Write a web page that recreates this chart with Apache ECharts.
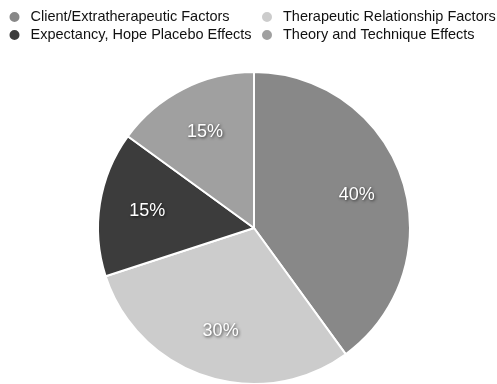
<!DOCTYPE html>
<html><head><meta charset="utf-8">
<script src="https://cdn.jsdelivr.net/npm/echarts@6/dist/echarts.min.js"></script>
<style>html,body{margin:0;padding:0;background:#fff}#c{width:497px;height:384px}</style>
</head><body><div id="c"></div>
<script>
const categories = ['Client/Extratherapeutic Factors', 'Therapeutic Relationship Factors', 'Expectancy, Hope Placebo Effects', 'Theory and Technique Effects'];
const values = [40, 30, 15, 15];
const colors = ['#888888', '#cccccc', '#3c3c3c', '#a0a0a0'];
const legendCol1 = [categories[0], categories[2]];
const legendCol2 = [categories[1], categories[3]];

const font = '"Liberation Sans", Arial, sans-serif';
const pieData = categories.map((n, i) => ({ name: n, value: values[i], itemStyle: { color: colors[i] } }));
const labelData = categories.map((n, i) => ({ name: n, value: values[i] }));

const legendBase = {
  orient: 'vertical', top: 4.5, padding: 5, itemGap: 3, itemWidth: 12, itemHeight: 12, icon: 'circle',
  textStyle: { fontFamily: font, fontSize: 14.5, lineHeight: 14, color: '#111', padding: [0, 0, 0, 5] }, selectedMode: false
};
const chart = echarts.init(document.getElementById('c'));
chart.setOption({
  animation: false,
  legend: [
    Object.assign({}, legendBase, { left: 2.5, data: legendCol1 }),
    Object.assign({}, legendBase, { left: 255, data: legendCol2 })
  ],
  series: [
    {
      type: 'pie', center: [254, 228], radius: [0, 156], startAngle: 90, clockwise: true,
      itemStyle: { borderColor: '#fff', borderWidth: 2 },
      label: { show: false }, labelLine: { show: false }, emphasis: { disabled: true },
      data: pieData
    },
    {
      type: 'pie', center: [254, 228], radius: [54, 156], startAngle: 90, clockwise: true, silent: true,
      itemStyle: { color: 'rgba(0,0,0,0)' },
      label: {
        show: true, position: 'inside', formatter: '{c}%', color: '#fff', fontFamily: font, fontSize: 18,
        textShadowColor: 'rgba(0,0,0,0.7)', textShadowBlur: 3, textShadowOffsetX: 1, textShadowOffsetY: 1
      },
      labelLine: { show: false }, emphasis: { disabled: true },
      data: labelData
    }
  ]
});
</script></body></html>
